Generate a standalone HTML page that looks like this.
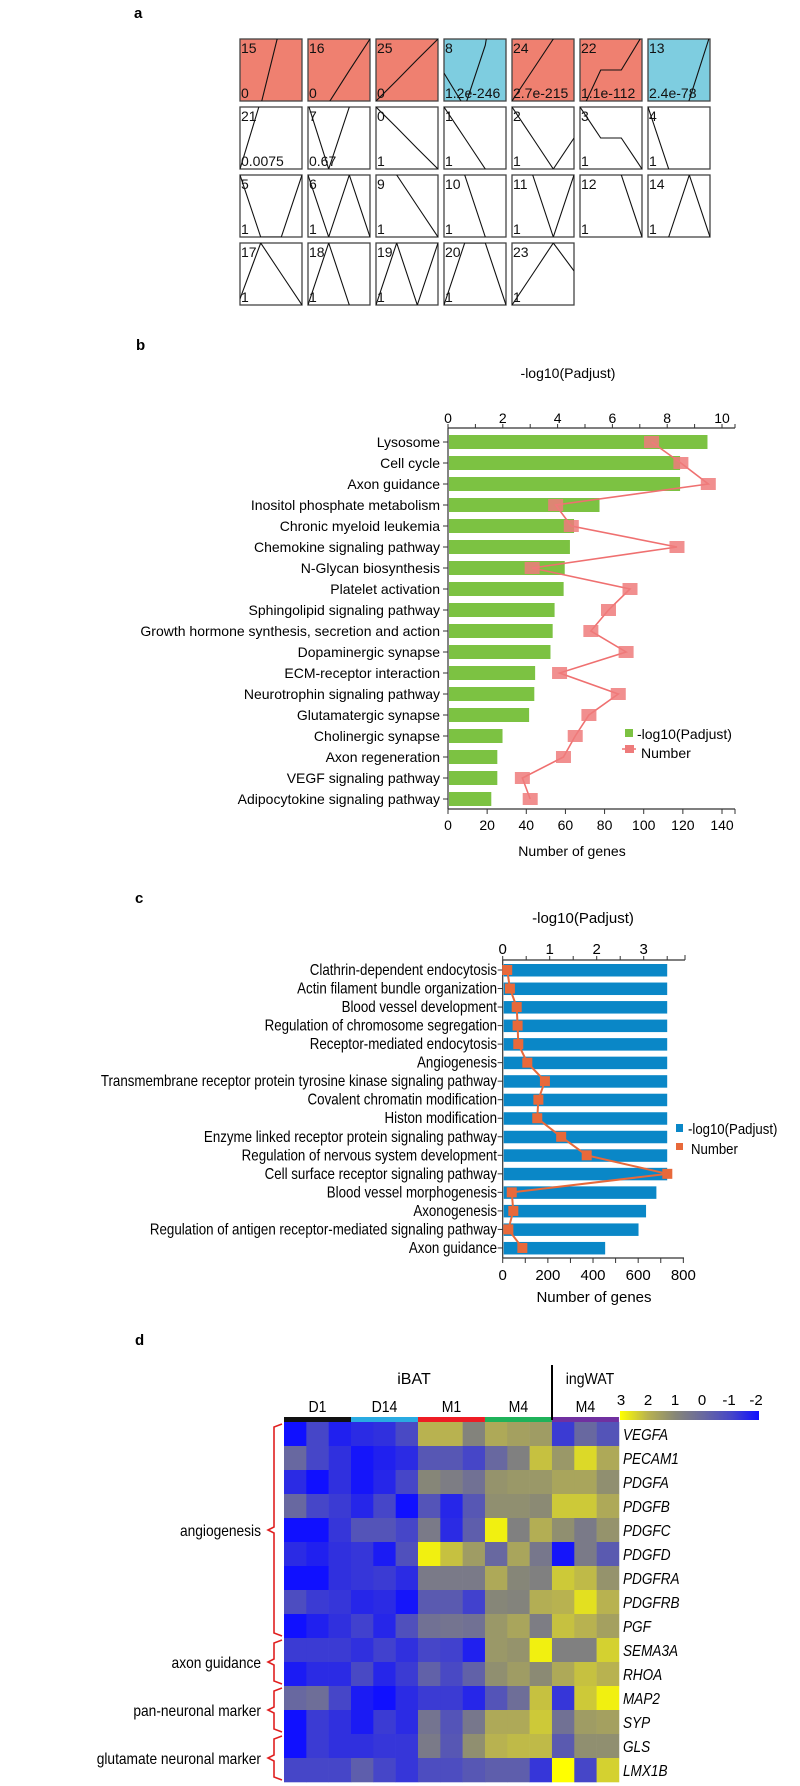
<!DOCTYPE html>
<html><head><meta charset="utf-8"><style>
html,body{margin:0;padding:0;background:#fff;}
svg{display:block;font-family:"Liberation Sans",Arial,sans-serif;}
</style></head><body>
<svg id="fig" width="800" height="1786" viewBox="0 0 800 1786" xmlns="http://www.w3.org/2000/svg">
<text x="134" y="18" font-size="15" font-weight="bold">a</text>
<text x="136" y="350" font-size="15" font-weight="bold">b</text>
<text x="135" y="903" font-size="15" font-weight="bold">c</text>
<text x="135" y="1345" font-size="15" font-weight="bold">d</text>
<g id="pa"></g>
<g id="pb"></g>
<g id="pc"></g>
<g id="pd"></g>
</svg>
<script>
const NS="http://www.w3.org/2000/svg";
function mk(parent,tag,attrs,text){const e=document.createElementNS(NS,tag);for(const k in attrs)e.setAttribute(k,attrs[k]);if(text!==undefined)e.textContent=text;parent.appendChild(e);return e;}

/* ---------- Panel a data ---------- */
const profileIds=["15","16","25","8","24","22","13","21","7","0","1","2","3","4","5","6","9","10","11","12","14","17","18","19","20","23"];
const profilePvals=["0","0","0","1.2e-246","2.7e-215","1.1e-112","2.4e-78","0.0075","0.67","1","1","1","1","1","1","1","1","1","1","1","1","1","1","1","1","1"];
const profileShapes=[[-1.4,-0.07,1.27,2.6],[-0.54,-0.03,0.49,1],[0,0.33,0.67,1],[0.45,-0.1,0.9,3],[0,0.5,1,1.5],[-0.22,0.5,0.5,1.05],[-2.06,-1.03,0.02,1.06],
[0,1.1,2.2,3.3],[1.05,0,1,2],[1,0.67,0.33,0],[1,0.5,0,-0.5],[1,0.5,0,0.5],[1,0.5,0.5,0],[1,0,-1,-2],
[1,0,0,1],[1,0,1,0],[1.5,1,0.5,0],[2,1,0,-1],[2,1,0,1],[3,2,1,0],[-1,0,1,0],
[0.1,1,0.5,0],[0,1,0,-1],[0,1,0,1],[0,1,1,0],[0,0.5,1,0.55]];
const profileSig=["up","up","up","down","up","up","down"];

/* ---------- Panel b data ---------- */
const bCats=["Lysosome","Cell cycle","Axon guidance","Inositol phosphate metabolism","Chronic myeloid leukemia","Chemokine signaling pathway","N-Glycan biosynthesis","Platelet activation","Sphingolipid signaling pathway","Growth hormone synthesis, secretion and action","Dopaminergic synapse","ECM-receptor interaction","Neurotrophin signaling pathway","Glutamatergic synapse","Cholinergic synapse","Axon regeneration","VEGF signaling pathway","Adipocytokine signaling pathway"];
const bLogP=[9.47,8.47,8.47,5.53,4.6,4.45,4.26,4.22,3.89,3.82,3.74,3.18,3.15,2.96,1.99,1.8,1.8,1.58];
const bGenes=[104,119,133,55,63,117,43,93,82,73,91,57,87,72,65,59,38,42];
const bTopTicks=[0,2,4,6,8,10];
const bBotTicks=[0,20,40,60,80,100,120,140];

/* ---------- Panel c data ---------- */
const cCats=["Clathrin-dependent endocytosis","Actin filament bundle organization","Blood vessel development","Regulation of chromosome segregation","Receptor-mediated endocytosis","Angiogenesis","Transmembrane receptor protein tyrosine kinase signaling pathway","Covalent chromatin modification","Histon modification","Enzyme linked receptor protein signaling pathway","Regulation of nervous system development","Cell surface receptor signaling pathway","Blood vessel morphogenesis","Axonogenesis","Regulation of antigen receptor-mediated signaling pathway","Axon guidance"];
const cLogP=[3.5,3.5,3.5,3.5,3.5,3.5,3.5,3.5,3.5,3.5,3.5,3.5,3.27,3.05,2.89,2.18];
const cGenes=[20,32,62,66,69,109,187,158,153,259,372,729,40,47,25,87];
const cTopTicks=[0,1,2,3];
const cBotTicks=[0,200,400,600,800];

/* ---------- Panel d data ---------- */
const dGenes=["VEGFA","PECAM1","PDGFA","PDGFB","PDGFC","PDGFD","PDGFRA","PDGFRB","PGF","SEMA3A","RHOA","MAP2","SYP","GLS","LMX1B"];
const dGroups=["D1","D14","M1","M4","M4"];
const dGroupColors=["#111111","#29abe2","#ee1c24","#1fb25a","#7030a0"];
const dValues=[
[-2,-1,-1.7,-1.5,-1.4,-0.9,2,2,0.9,1.8,1.6,1.5,-1.2,0,-0.6],
[0,-1,-1.4,-1.9,-1.7,-1.5,-0.5,-0.5,-1,0,0.8,2.2,1.4,2.5,1.8],
[-1.5,-2,-1.4,-1.9,-1.6,-1,1,0.7,0.3,1.3,1.4,1.4,1.7,1.7,1.2],
[0,-1,-1.2,-1.6,-1,-2,-0.6,-1.6,-0.5,1.2,1.2,1.1,2.3,2.3,1.8],
[-2,-2,-1.3,-0.6,-0.6,-1,0.6,-1.5,-0.3,2.8,0.8,1.9,1.2,0.6,1.3],
[-1.5,-1.7,-1.4,-1.3,-1.8,-0.7,2.8,2.2,1.5,0,1.7,0.5,-1.9,0.6,-0.4],
[-2,-2,-1.4,-1.3,-1.2,-1.5,0.6,0.6,0.6,1.8,1,0.8,2.3,2.1,1.3],
[-0.8,-1.2,-1.3,-1.6,-1.5,-1.9,-0.4,-0.4,-1.1,1,0.9,1.9,2,2.6,2],
[-2.2,-1.7,-1.4,-1.1,-1.6,-0.7,0.3,0.4,0.3,1.4,1.7,0.7,2.2,2,1.6],
[-1.2,-1.2,-1.2,-1.4,-1.1,-1.4,-1,-1.1,-1.7,1.4,1.3,2.8,0.8,0.8,2.4],
[-1.8,-1.5,-1.5,-0.9,-1.6,-1.2,-0.2,-0.9,-0.2,1.2,1.5,1.1,1.8,2.2,2],
[0,0.2,-1,-1.8,-2,-1.5,-1.2,-1.2,-1.6,-0.6,0.2,2.2,-1.3,2.3,2.8],
[-2.2,-1.2,-1.4,-1.8,-1.2,-1.5,0.4,-0.6,0.5,1.8,1.8,2.3,0.3,1.5,1.6],
[-2.2,-1.2,-1.4,-1.4,-1.3,-1.3,0.6,-0.5,1.2,2,2.1,2.1,-0.4,1.2,1.2],
[-1,-1,-1,-0.3,-1,-1.3,-0.8,-0.8,-0.5,-0.3,-0.3,-1.3,3.2,-1,2.4]];
const dScaleTicks=[3,2,1,0,-1,-2];
const dBrackets=[["angiogenesis",0,8],["axon guidance",9,10],["pan-neuronal marker",11,12],["glutamate neuronal marker",13,14]];

/* ---------- draw panel a ---------- */
(function(){
  const g=document.getElementById('pa');
  const defs=mk(g,'defs',{});
  profileIds.forEach((id,i)=>{
    const col=i%7,row=Math.floor(i/7);
    const x=240+col*68,y=39+row*68,w=62,h=62;
    const cp=mk(defs,'clipPath',{id:'cp'+i});mk(cp,'rect',{x:x,y:y,width:w,height:h});
    let fill='#fff';
    if(i<7)fill=profileSig[i]==='up'?'#ef8070':'#7ecde0';
    const box=mk(g,'rect',{x:x,y:y,width:w,height:h,fill:fill,stroke:'#444','stroke-width':1.3});
    
    
    const pts=profileShapes[i].map((v,k)=>(x+k*w/3).toFixed(1)+','+(y+h-v*h).toFixed(1)).join(' ');
    const pl=mk(g,'polyline',{points:pts,fill:'none',stroke:'#111','stroke-width':1.1,'clip-path':'url(#cp'+i+')'});
    
    
    const t1=mk(g,'text',{x:x+1,y:y+14,'font-size':14,fill:'#111'},id);
    
    
    const t2=mk(g,'text',{x:x+1,y:y+h-3,'font-size':14,fill:'#111'},profilePvals[i]);
    
    
  });
})();

/* ---------- draw panel b ---------- */
(function(){
  const g=document.getElementById('pb');
  const x0=448,top=428,bot=809,pxU=27.4,row0=442,pitch=21.0;
  const xP=v=>x0+v*pxU, xG=n=>x0+n*pxU/14, yR=i=>row0+i*pitch;
  let e=mk(g,'text',{x:568,y:378,'font-size':14,'text-anchor':'middle'},'-log10(Padjust)');
  
  mk(g,'line',{x1:x0,y1:top,x2:735,y2:top,stroke:'#333','stroke-width':1.2});
  for(let v=0;v<=10;v++){mk(g,'line',{x1:xP(v),y1:top,x2:xP(v),y2:top-4,stroke:'#333'});}
  mk(g,'line',{x1:735,y1:top,x2:735,y2:top-4,stroke:'#333'});
  bTopTicks.forEach(v=>{e=mk(g,'text',{x:xP(v),y:top-5,'font-size':14,'text-anchor':'middle'},String(v));
    });
  mk(g,'line',{x1:x0,y1:top,x2:x0,y2:bot,stroke:'#333','stroke-width':1.2});
  mk(g,'line',{x1:x0,y1:bot,x2:735,y2:bot,stroke:'#333','stroke-width':1.2});
  bBotTicks.forEach(v=>{mk(g,'line',{x1:xG(v),y1:bot,x2:xG(v),y2:bot+5,stroke:'#333'});
    e=mk(g,'text',{x:xG(v),y:bot+21,'font-size':14,'text-anchor':'middle'},String(v));
    });
  mk(g,'line',{x1:735,y1:bot,x2:735,y2:bot+5,stroke:'#333'});
  e=mk(g,'text',{x:572,y:856,'font-size':14,'text-anchor':'middle'},'Number of genes');
  
  bCats.forEach((c,i)=>{
    mk(g,'line',{x1:x0-5,y1:yR(i),x2:x0,y2:yR(i),stroke:'#333'});
    e=mk(g,'text',{x:440,y:yR(i)+5,'font-size':14,'text-anchor':'end'},c);
    
    e=mk(g,'rect',{x:x0+1,y:yR(i)-7,width:xP(bLogP[i])-x0-1,height:14,fill:'#7cc242'});
    
  });
  const pts=bGenes.map((n,i)=>xG(n)+','+yR(i)).join(' ');
  e=mk(g,'polyline',{points:pts,fill:'none',stroke:'#ef7070','stroke-width':1.6});
  
  bGenes.forEach((n,i)=>{e=mk(g,'rect',{x:xG(n)-7.5,y:yR(i)-6,width:15,height:12,fill:'#ee7b7b','fill-opacity':0.85});
    });
  e=mk(g,'rect',{x:625,y:729,width:8,height:8,fill:'#7cc242'});
  
  e=mk(g,'text',{x:637,y:739,'font-size':14},'-log10(Padjust)');
  
  mk(g,'line',{x1:622,y1:749,x2:636,y2:749,stroke:'#ef7070','stroke-width':1.5});
  e=mk(g,'rect',{x:625,y:745,width:9,height:8,fill:'#ee7b7b'});
  
  e=mk(g,'text',{x:641,y:758,'font-size':14},'Number');
  
})();

/* ---------- draw panel c ---------- */
(function(){
  const g=document.getElementById('pc');
  const x0=502.7,top=960,bot=1258,pxU=47.0,pxG=0.2258,row0=970,pitch=18.53;
  const xP=v=>x0+v*pxU, xG=n=>x0+n*pxG, yR=i=>row0+i*pitch;
  let e=mk(g,'text',{x:583,y:923,'font-size':15,'text-anchor':'middle'},'-log10(Padjust)');
  
  mk(g,'line',{x1:x0,y1:top,x2:685,y2:top,stroke:'#333','stroke-width':1.2});
  for(let v=0;v<=3.5;v+=0.5){mk(g,'line',{x1:xP(v),y1:top,x2:xP(v),y2:top-4,stroke:'#333'});}
  mk(g,'line',{x1:685,y1:top,x2:685,y2:top-5,stroke:'#333'});
  cTopTicks.forEach(v=>{e=mk(g,'text',{x:xP(v),y:top-6,'font-size':15,'text-anchor':'middle'},String(v));
    });
  mk(g,'line',{x1:x0,y1:top,x2:x0,y2:bot,stroke:'#333','stroke-width':1.2});
  mk(g,'line',{x1:x0,y1:bot,x2:684,y2:bot,stroke:'#333','stroke-width':1.2});
  for(let n=0;n<=800;n+=100){mk(g,'line',{x1:xG(n),y1:bot,x2:xG(n),y2:bot+5,stroke:'#333'});}
  cBotTicks.forEach(v=>{e=mk(g,'text',{x:xG(v),y:bot+22,'font-size':15,'text-anchor':'middle'},String(v));
    });
  e=mk(g,'text',{x:594,y:1302,'font-size':15,'text-anchor':'middle'},'Number of genes');
  
  cCats.forEach((c,i)=>{
    mk(g,'line',{x1:x0-5,y1:yR(i),x2:x0,y2:yR(i),stroke:'#333'});
    e=mk(g,'text',{x:497,y:yR(i)+5,'font-size':15.5,'text-anchor':'end',transform:'translate(497,0) scale(0.86,1) translate(-497,0)'},c);
    
    e=mk(g,'rect',{x:x0+1,y:yR(i)-6,width:xP(cLogP[i])-x0-1,height:12.5,fill:'#0a87c7'});
    
  });
  const pts=cGenes.map((n,i)=>xG(n)+','+yR(i)).join(' ');
  e=mk(g,'polyline',{points:pts,fill:'none',stroke:'#e8693a','stroke-width':2});
  
  cGenes.forEach((n,i)=>{e=mk(g,'rect',{x:xG(n)-5,y:yR(i)-5,width:10,height:10,fill:'#e8693a'});
    });
  e=mk(g,'rect',{x:676,y:1124,width:7,height:8,fill:'#0a87c7'});
  
  e=mk(g,'text',{x:688,y:1134,'font-size':15,transform:'translate(688,0) scale(0.88,1) translate(-688,0)'},'-log10(Padjust)');
  
  e=mk(g,'rect',{x:676,y:1143,width:7,height:7,fill:'#e8693a'});
  
  e=mk(g,'text',{x:691,y:1154,'font-size':15,transform:'translate(691,0) scale(0.88,1) translate(-691,0)'},'Number');
  
})();

/* ---------- draw panel d ---------- */
(function(){
  const g=document.getElementById('pd');
  const hx=284,hy=1422,cw=22.33,rh=24;
  const stops=[[3,[255,255,0]],[2,[184,178,80]],[1,[134,134,120]],[0,[104,104,160]],[-1,[70,70,200]],[-2,[16,16,255]]];
  function color(v){v=Math.max(-2,Math.min(3,v));for(let k=0;k<stops.length-1;k++){const a=stops[k],b=stops[k+1];if(v<=a[0]&&v>=b[0]){const t=(a[0]-v)/(a[0]-b[0]);const c=a[1].map((q,j)=>Math.round(q+(b[1][j]-q)*t));return 'rgb('+c.join(',')+')';}}return 'rgb(16,16,255)';}
  dValues.forEach((row,r)=>row.forEach((v,c)=>{
    const e=mk(g,'rect',{x:hx+c*cw,y:hy+r*rh,width:cw+0.3,height:rh+0.3,fill:color(v)});
    
    
  }));
  dGenes.forEach((n,r)=>{const e=mk(g,'text',{x:623,y:hy+r*rh+18,'font-size':16,'font-style':'italic',transform:'translate(623,0) scale(0.85,1) translate(-623,0)'},n);
    });
  dGroups.forEach((gr,k)=>{
    const x=hx+k*3*cw;
    let e=mk(g,'rect',{x:x,y:1417,width:3*cw,height:5,fill:dGroupColors[k]});
    
    e=mk(g,'text',{x:x+1.5*cw,y:1412,'font-size':16,'text-anchor':'middle',transform:'translate('+(x+1.5*cw)+',0) scale(0.88,1) translate('+(-(x+1.5*cw))+',0)'},gr);
    
  });
  let e=mk(g,'text',{x:414,y:1384,'font-size':16,'text-anchor':'middle'},'iBAT');
  
  e=mk(g,'text',{x:590,y:1384,'font-size':16,'text-anchor':'middle',transform:'translate(590,0) scale(0.88,1) translate(-590,0)'},'ingWAT');
  
  mk(g,'line',{x1:552,y1:1365,x2:552,y2:1420,stroke:'#000','stroke-width':2});
  const defs=mk(g,'defs',{});
  const lg=mk(defs,'linearGradient',{id:'cbar',x1:0,x2:1,y1:0,y2:0});
  stops.forEach((s,k)=>mk(lg,'stop',{offset:(k/5*100)+'%','stop-color':'rgb('+s[1].join(',')+')'}));
  e=mk(g,'rect',{x:620,y:1411,width:139,height:9,fill:'url(#cbar)'});
  
  dScaleTicks.forEach((t,k)=>{e=mk(g,'text',{x:621+k*27,y:1405,'font-size':15,'text-anchor':'middle'},String(t));
    });
  dBrackets.forEach(b=>{
    const y1=hy+b[1]*rh+2,y2=hy+(b[2]+1)*rh-2,ym=(y1+y2)/2;
    e=mk(g,'path',{d:'M282,'+y1+' L274,'+(y1+3)+' L274,'+(ym-3)+' L268,'+ym+' L274,'+(ym+3)+' L274,'+(y2-3)+' L282,'+y2,fill:'none',stroke:'#e02020','stroke-width':1.6});
    
    e=mk(g,'text',{x:261,y:ym+6,'font-size':16,'text-anchor':'end',transform:'translate(261,0) scale(0.86,1) translate(-261,0)'},b[0]);
    
  });
})();
</script>
</body></html>
